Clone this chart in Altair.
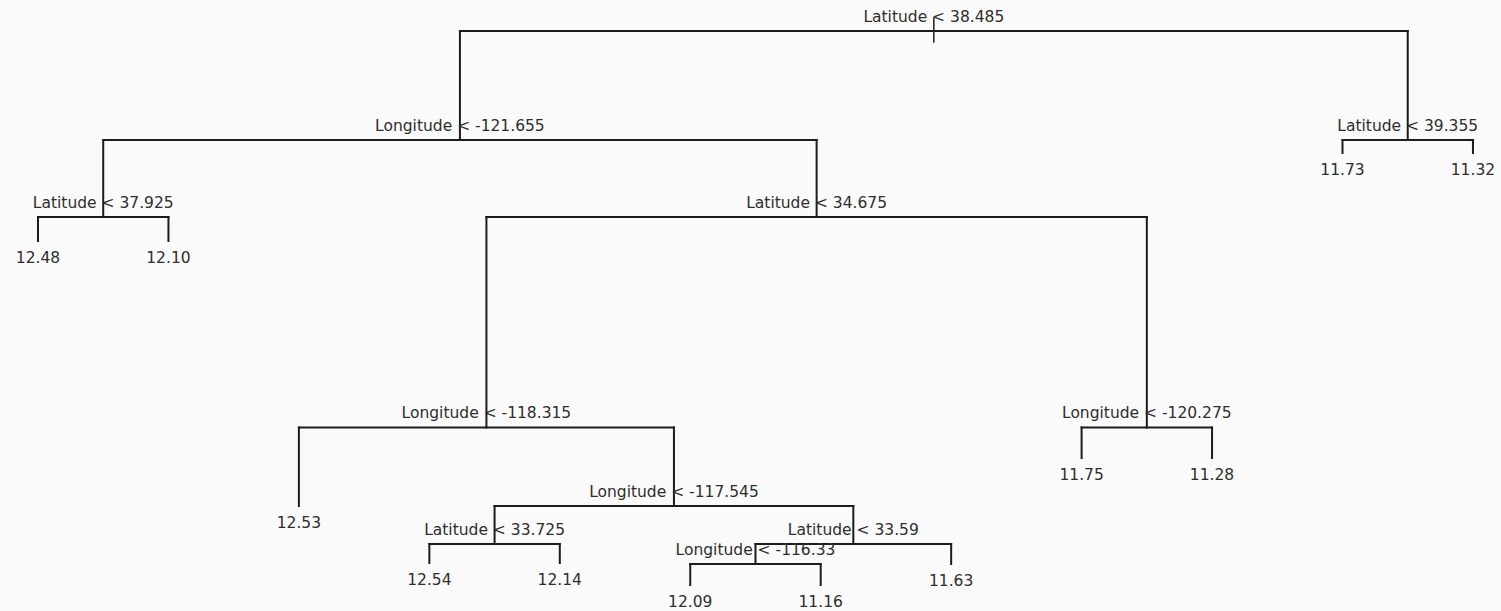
import altair as alt
import pandas as pd

# ---- tree data ----
internal_ids = ["root", "n2", "n3", "n4", "n5", "n6", "n7", "n8", "n9", "n10", "n11"]
internal_labels = [
    "Latitude < 38.485", "Longitude < -121.655", "Latitude < 39.355",
    "Latitude < 37.925", "Latitude < 34.675", "Longitude < -118.315",
    "Longitude < -120.275", "Longitude < -117.545", "Latitude < 33.725",
    "Latitude < 33.59", "Longitude < -116.33",
]
internal_depth = [31, 140, 140, 217, 217, 427.5, 427.5, 506, 544, 544, 564]
children = {
    "root": ("n2", "n3"), "n2": ("n4", "n5"), "n3": ("l11", "l12"),
    "n4": ("l1", "l2"), "n5": ("n6", "n7"), "n6": ("l3", "n8"),
    "n7": ("l9", "l10"), "n8": ("n9", "n10"), "n9": ("l4", "l5"),
    "n10": ("n11", "l8"), "n11": ("l6", "l7"),
}
leaf_ids = ["l%d" % i for i in range(1, 13)]
leaf_labels = ["12.48", "12.10", "12.53", "12.54", "12.14", "12.09",
               "11.16", "11.63", "11.75", "11.28", "11.73", "11.32"]
leaf_depth = [241, 241, 506, 563, 563, 585, 585, 564, 458, 458, 153, 153]
root_stub = [18, 42]

# ---- layout: leaves at positions 1..12, internal nodes at the midpoint of children ----
pos, depth = {}, {}
for i, lid in enumerate(leaf_ids):
    pos[lid] = i + 1
    depth[lid] = leaf_depth[i]
for nid, d in zip(internal_ids, internal_depth):
    depth[nid] = d

def place(n):
    if n in pos:
        return pos[n]
    a, b = children[n]
    pos[n] = (place(a) + place(b)) / 2
    return pos[n]

place("root")

segs = []
for n, (a, b) in children.items():
    segs.append(dict(x=pos[a], x2=pos[b], y=depth[n], y2=depth[n], w=2))
    for c in (a, b):
        segs.append(dict(x=pos[c], x2=pos[c], y=depth[n], y2=depth[c], w=2))
segs.append(dict(x=pos["root"], x2=pos["root"], y=root_stub[0], y2=root_stub[1], w=1.5))
seg_df = pd.DataFrame(segs)

split_df = pd.DataFrame(dict(
    x=[pos[n] for n in internal_ids],
    y=[depth[n] for n in internal_ids],
    label=internal_labels,
))
leaf_df = pd.DataFrame(dict(
    x=[pos[n] for n in leaf_ids],
    y=[depth[n] for n in leaf_ids],
    label=leaf_labels,
))

W, H = 1501, 611
x0, step = 38.0, 130.45
xs = alt.Scale(domain=[1 - x0 / step, 1 + (W - x0) / step], nice=False, zero=False)
ys = alt.Scale(domain=[0, H], reverse=True, nice=False, zero=False)

X = alt.X("x:Q", scale=xs, axis=None)
Y = alt.Y("y:Q", scale=ys, axis=None)

lines = alt.Chart(seg_df).mark_rule(color="#1c1c1c", strokeCap="square").encode(
    x=X, x2="x2:Q", y=Y, y2="y2:Q",
    strokeWidth=alt.StrokeWidth("w:Q", scale=None, legend=None),
)

font = "DejaVu Sans"
split_text = alt.Chart(split_df).mark_text(
    font=font, fontSize=15.5, color="#2e2e2e", align="center",
    baseline="alphabetic", dy=-9.5,
).encode(x=X, y=Y, text="label:N")

leaf_text = alt.Chart(leaf_df).mark_text(
    font=font, fontSize=15.5, color="#2e2e2e", align="center",
    baseline="alphabetic", dy=21.5,
).encode(x=X, y=Y, text="label:N")

chart = alt.layer(lines, split_text, leaf_text).properties(
    width=W, height=H, padding=0, background="#fafafa",
    autosize=alt.AutoSizeParams(type="none"),
).configure_view(stroke=None)

chart.save("out.html", embed_options={"renderer": "svg", "actions": False})
